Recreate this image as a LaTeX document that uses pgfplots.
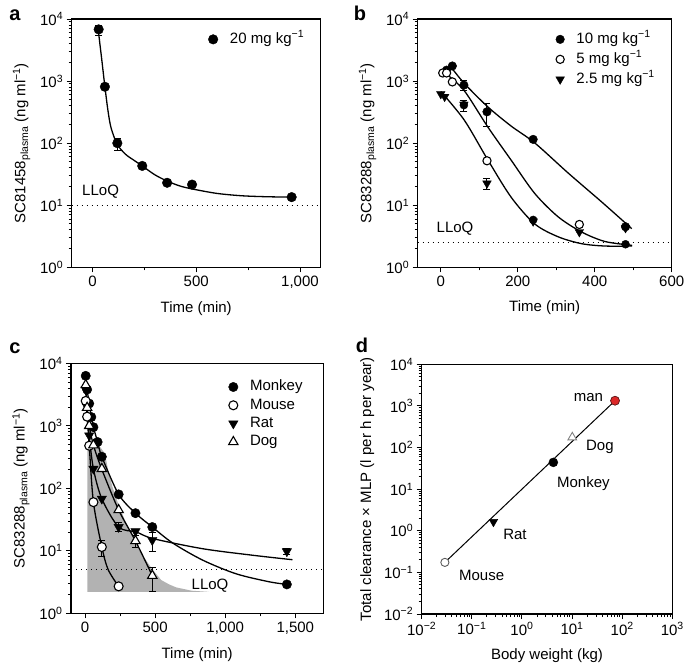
\documentclass[border=0pt]{standalone}
\usepackage{fontspec}
\setmainfont{Liberation Sans}
\usepackage{pgfplots}
\pgfplotsset{compat=1.18}

\newcommand{\fs}{\fontsize{15}{17}\selectfont}
\newcommand{\sups}[1]{\textsuperscript{#1}}

\pgfplotsset{
  panel/.style={
    scale only axis, anchor=south west,
    axis line style={line width=1.1pt},
    tick align=outside, tick pos=left,
    major tick length=5pt, minor tick length=3pt,
    every tick/.style={black, line width=0.9pt},
    tick label style={font=\fs},
    label style={font=\fs},
    xlabel style={yshift=-7pt},
    ylabel style={yshift=3pt},
    legend style={draw=none, fill=none, font=\fs, inner sep=0pt, anchor=north west,
      nodes={inner sep=0.5pt, text height=10.5pt, text depth=3pt},
      /tikz/every odd column/.append style={column sep=11.5pt}},
    legend cell align=left,
    legend image code/.code={\draw[##1] plot coordinates {(0pt,0pt)};},
  },
  ydecades/.style={
    ymin=1, ymax=10000,
    ytick={1,10,100,1000,10000},
    yticklabels={10\sups{0},10\sups{1},10\sups{2},10\sups{3},10\sups{4}},
    minor ytick={2,3,4,5,6,7,8,9,20,30,40,50,60,70,80,90,200,300,400,500,600,700,800,900,2000,3000,4000,5000,6000,7000,8000,9000},
  },
  fc/.style={only marks, mark=*, mark size=4.3pt, mark options={fill=black, draw=black}},
  oc/.style={only marks, mark=*, mark size=4.1pt, mark options={fill=white, draw=black, line width=1.1pt}},
  td/.style={only marks, mark=triangle*, mark size=5pt, mark options={rotate=180, fill=black, draw=black}},
  tu/.style={only marks, mark=triangle*, mark size=5pt, mark options={fill=white, draw=black, line width=1.1pt}},
  eb/.style={error bars/.cd, y dir=both, y explicit,
    error bar style={line width=1pt, black},
    error mark options={rotate=90, mark size=3.5pt, line width=1pt, black}},
  fitline/.style={black, line width=1.3pt, smooth, no marks, forget plot},
  lloq/.style={black, line width=1.3pt, dash pattern=on 1.3pt off 3.7pt, forget plot},
}

\begin{document}
\begin{tikzpicture}
\useasboundingbox (0,0) rectangle (685pt,662pt);

\node[font=\fontsize{20}{21}\selectfont\bfseries] at (15pt,647pt) {a};
\node[font=\fontsize{20}{21}\selectfont\bfseries] at (360pt,649pt) {b};
\node[font=\fontsize{20}{21}\selectfont\bfseries] at (15pt,314pt) {c};
\node[font=\fontsize{20}{21}\selectfont\bfseries] at (362pt,317pt) {d};

% ---------------- a
\begin{axis}[panel, ymode=log, ydecades, at={(71.7pt,394.7pt)}, width=249pt, height=248.3pt,
  xmin=-100, xmax=1100, xtick={0,500,1000}, xticklabels={0,500,{1,000}},
  minor xtick={250,750},
  xlabel={Time (min)},
  ylabel={SC81458\textsubscript{plasma} (ng ml\sups{−1})},
  legend style={at={(rel axis cs:0.548,0.948)}}]
\addplot[lloq] coordinates {(-100,10) (1100,10)};
\addplot[fitline] coordinates {
(27,7200) (35,4200) (45,2200) (60,810) (75,330) (90,175) (120,95) (160,66)
(200,53) (240,43) (300,31) (360,24.5) (420,20.5) (480,18.3) (600,15.5)
(720,14.2) (840,13.7) (960,13.5)};
\addplot[fc, mark size=4.8pt, eb] coordinates {
(30,6800) += (0,1150) -= (0,1450)
(60,810)
(120,100) += (0,20) -= (0,25)
(240,43)
(360,23)
(480,21.5)
(960,13.5)};
\addlegendentry{20 mg kg\sups{−1}}
\node[font=\fs] at (rel axis cs:0.116,0.304) {LLoQ};
\end{axis}

% ---------------- b
\begin{axis}[panel, ymode=log, ydecades, at={(417.7pt,394.7pt)}, width=254pt, height=248.3pt,
  xmin=-60, xmax=600, xtick={0,200,400,600}, xticklabels={0,200,400,600},
  minor xtick={100,300,500},
  xlabel={Time (min)},
  ylabel={SC83288\textsubscript{plasma} (ng ml\sups{−1})},
  legend style={at={(rel axis cs:0.543,0.948)}, row sep=5.5pt}]
\addplot[lloq] coordinates {(-60,2.5) (600,2.5)};
\addplot[fitline] coordinates {
(26,1700) (61,918) (122,385) (183,188) (244,101) (331,33) (418,11.3) (496,4.2)};
\addplot[fitline] coordinates {
(17,1260) (61,700) (122,183) (183,53) (244,15.5) (305,6.5) (366,3.7) (427,2.6) (497,2.26)};
\addplot[fitline] coordinates {
(0,680) (61,235) (122,54) (183,13.4) (244,5) (305,3.1) (366,2.4) (427,2.2) (497,2.2)};
\addplot[td, forget plot, eb] coordinates {
(0,620) (10,560) (60,420) += (0,70) -= (0,100)
(120,22.5) += (0,4.5) -= (0,4.5)
(240,5.5) (360,3.7) (480,4.3)};
\addplot[fc, eb] coordinates {
(15,1500) (30,1750)
(60,860) += (0,150) -= (0,150)
(120,320) += (0,115) -= (0,137)
(240,115) (480,4.5)};
\addlegendentry{10 mg kg\sups{−1}}
\addplot[oc] coordinates {
(5,1350) (15,1350) (30,970) (120,52) (360,4.9)};
\addlegendentry{5 mg kg\sups{−1}}
\addplot[td] coordinates {(-1000,1)};
\addlegendentry{2.5 mg kg\sups{−1}}
\addplot[fc, mark size=4pt, forget plot] coordinates {
(60,410) (240,5.8) (480,2.35)};
\node[font=\fs] at (rel axis cs:0.147,0.157) {LLoQ};
\end{axis}

% ---------------- c
\begin{axis}[panel, ymode=log, ydecades, at={(71pt,48.7pt)}, width=252.3pt, height=250pt,
  xmin=-100, xmax=1700, xtick={0,500,1000,1500},
  xticklabels={0,500,{1,000},{1,500}}, minor xtick={250,750,1250},
  xlabel={Time (min)},
  ylabel={SC83288\textsubscript{plasma} (ng ml\sups{−1})},
  legend style={at={(rel axis cs:0.624,0.935)}, row sep=3.8pt}]
\addplot[fill={rgb,255:red,178;green,178;blue,178}, draw=none, forget plot] coordinates {
(16,2.2) (16,500) (95,500) (142,360) (165,195) (196,105) (236,57) (284,31)
(343,17) (402,9) (485,4.9) (544,3.4) (600,2.9) (650,2.6) (760,2.3) (886,2.2)};
\addplot[lloq] coordinates {(-100,5) (1700,5)};
\addplot[fitline] coordinates {
(5,6300) (15,3800) (30,2270) (45,1380) (60,950) (90,550) (120,320) (240,80)
(360,40) (480,24) (626,13.3) (839,7.1) (1076,4.3) (1312,3.2) (1440,2.9)};
\addplot[fitline] coordinates {
(5,2500) (15,1400) (30,480) (60,60) (120,11.5) (165,5) (240,2.7)};
\addplot[fitline] coordinates {
(5,3800) (15,2000) (30,700) (60,205) (120,68) (240,24) (366,20) (484,15.7)
(839,10.8) (1194,8.5) (1480,7.2)};
\addplot[fitline] coordinates {
(5,4500) (15,1950) (30,1000) (60,490) (120,200) (240,45) (360,14.4) (480,4.0)};
\addplot[fc, mark size=4.7pt] coordinates {
(5,6300) (15,3800) (30,2270) (45,1380) (60,950) (90,550) (120,320) (240,80)
(360,40) (480,24) (1440,2.9)};
\addlegendentry{Monkey}
\addplot[oc, mark size=4.5pt, eb] coordinates {
(5,2500) (15,1400) (30,480) (60,60)
(120,11.5) += (0,3) -= (0,3.5)
(240,2.7)};
\addlegendentry{Mouse}
\addplot[td, mark size=5.4pt, eb] coordinates {
(5,3800) (15,2000) (30,700) (60,205) (120,68)
(240,24) += (0,4) -= (0,4)
(360,20.5)
(480,14.8) += (0,5) -= (0,5)
(1440,9.8) += (0,1) -= (0,1)};
\addlegendentry{Rat}
\addplot[tu, mark size=5.4pt, eb] coordinates {
(5,4500) (15,1950) (30,1000) (60,490) (120,205) (240,45)
(360,14.4) += (0,3) -= (0,3)
(480,4.0) += (0,1.5) -= (0,1.8)};
\addlegendentry{Dog}
\node[font=\fs] at (rel axis cs:0.551,0.11) {LLoQ};
\end{axis}

% ---------------- d
\begin{axis}[panel, at={(421.7pt,48pt)}, width=250.6pt, height=249.7pt,
  xmode=log, ymode=log, xmin=0.01, xmax=1000, ymin=0.01, ymax=10000,
  xtick={0.01,0.1,1,10,100,1000},
  xticklabels={10\sups{−2},10\sups{−1},10\sups{0},10\sups{1},10\sups{2},10\sups{3}},
  ytick={0.01,0.1,1,10,100,1000,10000},
  yticklabels={10\sups{−2},10\sups{−1},10\sups{0},10\sups{1},10\sups{2},10\sups{3},10\sups{4}},
  minor xtick={0.02,0.03,0.04,0.05,0.06,0.07,0.08,0.09,0.2,0.3,0.4,0.5,0.6,0.7,0.8,0.9,2,3,4,5,6,7,8,9,20,30,40,50,60,70,80,90,200,300,400,500,600,700,800,900},
  minor ytick={0.02,0.03,0.04,0.05,0.06,0.07,0.08,0.09,0.2,0.3,0.4,0.5,0.6,0.7,0.8,0.9,2,3,4,5,6,7,8,9,20,30,40,50,60,70,80,90,200,300,400,500,600,700,800,900,2000,3000,4000,5000,6000,7000,8000,9000},
  xlabel={Body weight (kg)},
  ylabel={Total clearance × MLP (l per h per year)}]
\addplot[black, line width=1pt, forget plot] coordinates {(0.029,0.174) (72,1333)};
\addplot[oc, mark options={fill=white, draw={rgb,255:red,90;green,90;blue,90}, line width=0.9pt}] coordinates {(0.029,0.174)};
\addplot[td] coordinates {(0.27,1.64)};
\addplot[fc, mark size=4.5pt] coordinates {(4.23,44)};
\addplot[tu, mark options={fill=white, draw={rgb,255:red,130;green,130;blue,130}, line width=0.9pt}] coordinates {(10.1,176)};
\addplot[only marks, mark=*, mark size=4.5pt, mark options={fill={rgb,255:red,220;green,40;blue,40}, draw={rgb,255:red,90;green,20;blue,20}, line width=0.7pt}] coordinates {(72,1333)};
\node[font=\fs] at (rel axis cs:0.665,0.868) {man};
\node[font=\fs] at (rel axis cs:0.711,0.670) {Dog};
\node[font=\fs] at (rel axis cs:0.645,0.523) {Monkey};
\node[font=\fs] at (rel axis cs:0.372,0.317) {Rat};
\node[font=\fs] at (rel axis cs:0.239,0.156) {Mouse};
\end{axis}
\end{tikzpicture}
\end{document}
